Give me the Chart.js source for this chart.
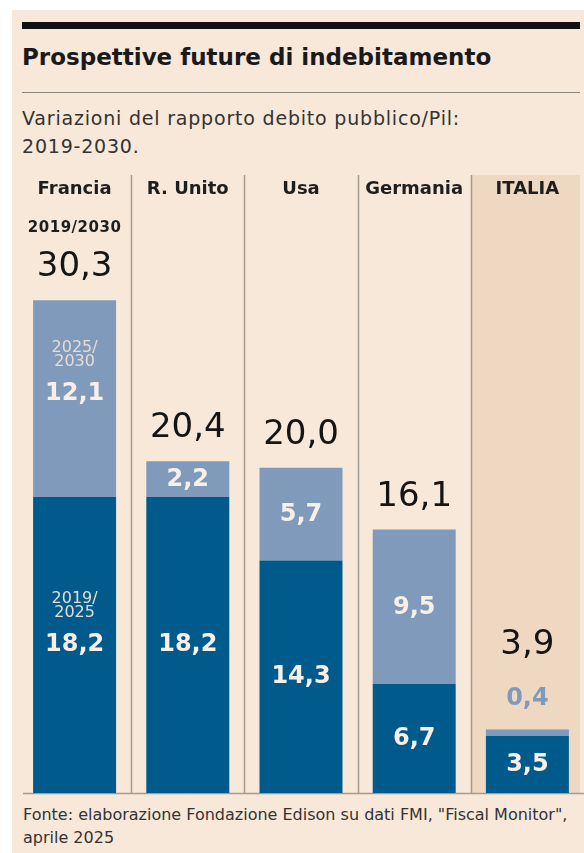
<!DOCTYPE html>
<html>
<head>
<meta charset="utf-8">
<script src="https://cdn.jsdelivr.net/npm/chart.js@4/dist/chart.umd.min.js"></script>
<style>
  html, body { margin: 0; padding: 0; background: #fff; }
  body { width: 584px; height: 853px; position: relative; overflow: hidden; font-family: "DejaVu Sans", sans-serif; }
  #panel { position: absolute; left: 12px; top: 10px; width: 572px; height: 843px; background: #f8e8da; }
  #topbar { position: absolute; left: 22px; top: 22px; width: 558px; height: 7px; background: #111; }
  #title { position: absolute; left: 22px; top: 44px; font-weight: 700; font-size: 23px; line-height: 26px; color: #1a1a1a; white-space: nowrap; }
  #rule { position: absolute; left: 22px; top: 92px; width: 558px; height: 1px; background: #8a847e; }
  #subtitle { position: absolute; left: 22px; top: 104px; font-size: 19px; letter-spacing: 0.8px; line-height: 28px; color: #333; white-space: nowrap; }
  #source { position: absolute; left: 23px; top: 803px; font-size: 16px; line-height: 23px; color: #333; white-space: nowrap; }
  #chartBox { position: absolute; left: 0; top: 165px; width: 584px; height: 635px; }
</style>
</head>
<body>
<div id="panel"></div>
<div id="topbar"></div>
<div id="title">Prospettive future di indebitamento</div>
<div id="rule"></div>
<div id="subtitle">Variazioni del rapporto debito pubblico/Pil:<br>2019-2030.</div>
<div id="chartBox"><canvas id="debtChart" width="584" height="635"></canvas></div>
<div id="source">Fonte: elaborazione Fondazione Edison su dati FMI, "Fiscal Monitor",<br>aprile 2025</div>

<script>
// data
const countries = ['Francia', 'R. Unito', 'Usa', 'Germania', 'ITALIA'];
const change2019to2025 = [18.2, 18.2, 14.3, 6.7, 3.5];
const change2025to2030 = [12.1, 2.2, 5.7, 9.5, 0.4];
const change2019to2030 = [30.3, 20.4, 20.0, 16.1, 3.9];
const periodLabels = ['2019/\n2025', '2025/\n2030', '2019/2030'];

const darkBlue = '#005a8c';
const lightBlue = '#7f9abb';
const lineGrey = '#a39a92';
const font = '"DejaVu Sans"';

const fmt = v => v.toFixed(1).replace('.', ',');

// columns, separators, country names and value labels
const columnPlugin = {
    id: 'columns',
    beforeDatasetsDraw(chart) {
        const ctx = chart.ctx;
        const x = chart.scales.x;
        const area = chart.chartArea;
        const half = (x.getPixelForValue(1) - x.getPixelForValue(0)) / 2;
        const top = area.top;
        const bottom = area.bottom;

        ctx.save();
        // highlighted Italia column
        const last = countries.length - 1;
        ctx.fillStyle = '#efd8c1';
        ctx.fillRect(x.getPixelForValue(last) - half, top, half * 2 - 4, bottom - top);

        // separators
        ctx.strokeStyle = lineGrey;
        ctx.lineWidth = 1.5;
        for (let i = 1; i < countries.length; i++) {
            const sx = Math.round(x.getPixelForValue(i) - half) + 0.5;
            ctx.beginPath();
            ctx.moveTo(sx, top);
            ctx.lineTo(sx, bottom);
            ctx.stroke();
        }
        // baseline
        ctx.beginPath();
        ctx.moveTo(23, bottom + 0.5);
        ctx.lineTo(area.right, bottom + 0.5);
        ctx.stroke();

        // country names
        ctx.fillStyle = '#1e1e1e';
        ctx.font = 'bold 18px ' + font;
        ctx.textAlign = 'center';
        ctx.textBaseline = 'alphabetic';
        countries.forEach((c, i) => {
            ctx.fillText(c, x.getPixelForValue(i), area.top + 19);
        });
        ctx.restore();
    },
    afterDatasetsDraw(chart) {
        const ctx = chart.ctx;
        const dark = chart.getDatasetMeta(0).data;
        const light = chart.getDatasetMeta(1).data;
        ctx.save();
        ctx.textAlign = 'center';

        countries.forEach((c, i) => {
            const d = dark[i];
            const l = light[i];
            const dMid = (d.y + d.base) / 2;
            let lMid = (l.y + l.base) / 2;
            if (i === 0) lMid -= 6;

            // dark segment value
            ctx.fillStyle = '#f7efe8';
            ctx.font = 'bold 24px ' + font;
            ctx.textBaseline = 'middle';
            ctx.fillText(fmt(change2019to2025[i]), d.x, dMid);

            let topY = l.y;
            if (l.base - l.y > 20) {
                ctx.fillText(fmt(change2025to2030[i]), l.x, lMid + 1);
            } else {
                // thin segment: label above the bar
                ctx.fillStyle = lightBlue;
                ctx.fillText(fmt(change2025to2030[i]), l.x, l.y - 31);
                topY = l.y - 52;
            }

            // total
            ctx.fillStyle = '#151515';
            ctx.font = '34px ' + font;
            ctx.textBaseline = 'alphabetic';
            ctx.fillText(fmt(change2019to2030[i]), l.x, topY - 24);

            if (i === 0) {
                // period captions on the first column
                ctx.fillStyle = '#e6dcd3';
                ctx.font = '16px ' + font;
                const dl = periodLabels[0].split('\n');
                ctx.fillText(dl[0], d.x, dMid - 42);
                ctx.fillText(dl[1], d.x, dMid - 28);
                const ll = periodLabels[1].split('\n');
                ctx.fillText(ll[0], l.x, lMid - 41);
                ctx.fillText(ll[1], l.x, lMid - 27);
                ctx.fillStyle = '#1e1e1e';
                ctx.font = 'bold 15px ' + font;
                ctx.letterSpacing = '0.5px';
                ctx.fillText(periodLabels[2], l.x, topY - 68);
                ctx.letterSpacing = '0px';
            }
        });
        ctx.restore();
    }
};

new Chart(document.getElementById('debtChart'), {
    type: 'bar',
    data: {
        labels: countries,
        datasets: [{
            label: '2019/2025',
            data: change2019to2025,
            backgroundColor: darkBlue,
            borderWidth: 0,
            barPercentage: 0.733,
            categoryPercentage: 1
        }, {
            label: '2025/2030',
            data: change2025to2030,
            backgroundColor: lightBlue,
            borderWidth: 0,
            barPercentage: 0.733,
            categoryPercentage: 1
        }]
    },
    options: {
        responsive: false,
        animation: false,
        devicePixelRatio: 1,
        layout: { padding: { left: 18, right: 0, top: 10, bottom: 7 } },
        plugins: { legend: { display: false }, tooltip: { enabled: false } },
        scales: {
            x: { stacked: true, display: false },
            y: { stacked: true, display: false, min: 0, max: 38 }
        }
    },
    plugins: [columnPlugin]
});
</script>
</body>
</html>
